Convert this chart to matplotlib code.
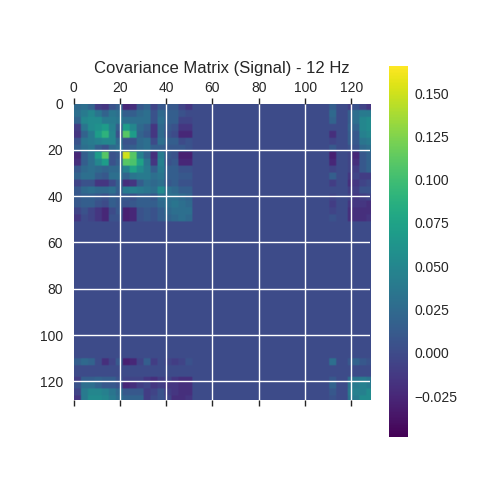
import numpy as np
import matplotlib
matplotlib.use("Agg")
import matplotlib.pyplot as plt

plt.rcParams["font.family"] = ["Liberation Sans", "DejaVu Sans"]

title = "Covariance Matrix (Signal) - 12 Hz"
matrix_size = 128
x_ticks = [0, 20, 40, 60, 80, 100, 120]
cbar_ticks = [-0.025, 0.0, 0.025, 0.05, 0.075, 0.1, 0.125, 0.15]
vmin, vmax = -0.0486, 0.1656

# Upper triangle of the covariance block for channels 0-50, in 3-channel groups (x 0.001)
block_a = [
    [25, 30, 20, -10, -15, 5, 15, -25, -20, 10, 20, -5, 10, 10, 10, -5, -15],
    [40, 50, 35, 20, 35, 30, 15, 15, 25, 30, 5, 25, 15, 15, 5, 0],
    [55, 55, 40, 40, 35, 30, 30, 30, 30, 5, 30, 15, 15, -5, -5],
    [60, 70, 45, 15, 70, 50, 25, 15, -15, 25, 10, 5, -15, -15],
    [90, 50, 5, 110, 70, 20, 10, -15, 25, 5, 0, -25, -25],
    [50, 25, 5, 5, 25, 30, 0, 30, 15, 15, 0, 5],
    [30, 10, 15, 25, 30, 15, 15, 10, 10, 10, 5],
    [150, 110, 45, 20, -20, 40, 10, 5, -30, -30],
    [105, 75, 35, -15, 45, 5, 10, -25, -25],
    [55, 40, 15, 40, 15, 15, 5, 5],
    [40, 30, 35, 15, 15, 10, 10],
    [25, 30, 10, 15, 5, 5],
    [55, 30, 25, 15, 15],
    [30, 30, 25, 20],
    [35, 30, 25],
    [30, 30],
    [25],
]
# Channels 0-50 against the high channel groups (x 0.001)
block_cross = [
    [15, -10, 5, -5, -15],
    [25, 15, 30, 40, 40],
    [20, 15, 30, 50, 55],
    [0, 20, 20, 50, 55],
    [-20, 15, 10, 45, 50],
    [-5, 15, 10, 35, 40],
    [10, 5, 5, 25, 30],
    [-30, -5, -25, 10, 20],
    [-25, -5, -20, 10, 20],
    [-5, -5, -10, 10, 20],
    [15, -15, -5, -10, -10],
    [-10, -20, -15, -5, 0],
    [0, -10, -10, 5, 5],
    [-5, -5, -15, -10, -5],
    [-10, -15, -15, -15, -20],
    [-5, -20, -20, -20, -20],
    [5, -20, -20, -20, -15],
]
# High channel groups against themselves (x 0.001)
block_b = [
    [30, 10, 20, 10, 5],
    [10, 30, 35, 40, 35],
    [20, 35, 40, 45, 40],
    [10, 40, 45, 45, 55],
    [5, 35, 40, 55, 55],
]
low_groups = [(i, i + 3) for i in range(0, 51, 3)]
high_groups = [(110, 113), (118, 120), (120, 123), (123, 126), (126, 128)]

cov = np.zeros((matrix_size, matrix_size))
for i, row in enumerate(block_a):
    for k, v in enumerate(row):
        j = i + k
        a, b = low_groups[i], low_groups[j]
        cov[a[0]:a[1], b[0]:b[1]] = v / 1000
        cov[b[0]:b[1], a[0]:a[1]] = v / 1000
for i, row in enumerate(block_cross):
    for j, v in enumerate(row):
        a, b = low_groups[i], high_groups[j]
        cov[a[0]:a[1], b[0]:b[1]] = v / 1000
        cov[b[0]:b[1], a[0]:a[1]] = v / 1000
for i, row in enumerate(block_b):
    for j, v in enumerate(row):
        a, b = high_groups[i], high_groups[j]
        cov[a[0]:a[1], b[0]:b[1]] = v / 1000

fig = plt.figure(figsize=(4.8, 4.8), dpi=100)
ax = fig.add_axes([73.5 / 480, 1 - 400 / 480, 296.5 / 480, 296.5 / 480])
im = ax.imshow(cov, cmap="viridis", vmin=vmin, vmax=vmax, aspect="equal",
               interpolation="antialiased", extent=(0, matrix_size, matrix_size, 0))
ax.set_xticks(x_ticks)
ax.set_yticks(x_ticks)
ax.tick_params(axis="x", top=True, bottom=True, labeltop=True, labelbottom=False,
               length=4, width=1, color="#262626", labelcolor="#262626", labelsize=10, pad=2)
ax.tick_params(axis="y", left=False, right=False, labelcolor="#262626", labelsize=10, pad=4)
ax.grid(True, color="white", linewidth=1)
ax.xaxis.get_gridlines()[0].set_visible(False)
ax.yaxis.get_gridlines()[0].set_visible(False)
for s in ax.spines.values():
    s.set_visible(False)
ax.set_title(title, fontsize=12, color="#262626", pad=6)

cax = fig.add_axes([389 / 480, 1 - 437 / 480, 18.5 / 480, 371 / 480])
cb = fig.colorbar(im, cax=cax)
cb.set_ticks(cbar_ticks)
cb.ax.tick_params(length=0, labelsize=10, labelcolor="#262626", pad=5)
cb.outline.set_visible(False)

fig.savefig("out.png", dpi=100)
